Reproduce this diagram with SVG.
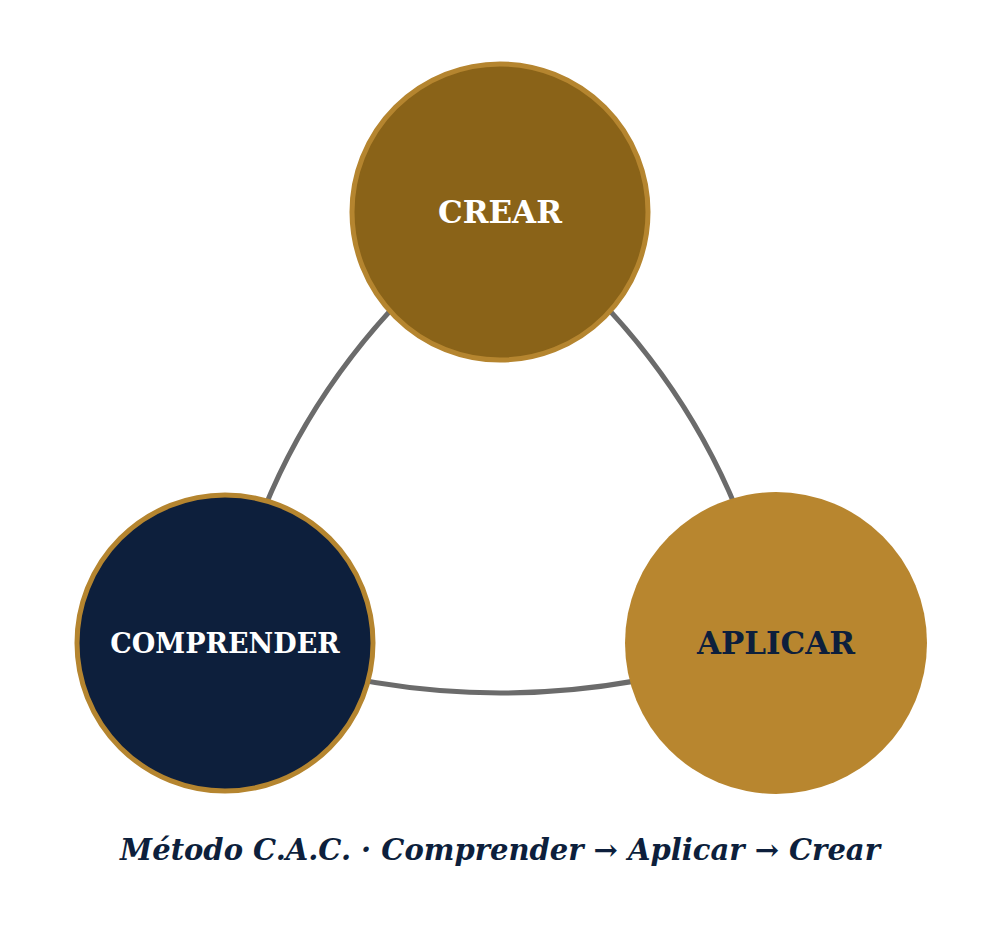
<svg xmlns="http://www.w3.org/2000/svg" width="1000" height="928" viewBox="0 0 1000 928">
<style>
.lbl{font-family:"DejaVu Serif",serif;font-weight:bold;text-anchor:middle;dominant-baseline:central}
.arc{fill:none;stroke:#6b6b6b;stroke-width:5}
</style>
<rect width="1000" height="928" fill="#fff"/>
<g id="connectors">
<path class="arc" d="M225,643 Q274,381 500,212"/>
<path class="arc" d="M500,212 Q726,381 776,643"/>
<path class="arc" d="M225,643 Q500,743 776,643"/>
</g>
<g id="crear">
<circle cx="500" cy="212" r="148" fill="#8a6318" stroke="#b5852f" stroke-width="5"/>
<text class="lbl" x="500" y="212" font-size="31" fill="#fff">CREAR</text>
</g>
<g id="comprender">
<circle cx="225" cy="643" r="148" fill="#0d1f3c" stroke="#b5852f" stroke-width="5"/>
<text class="lbl" x="225" y="643" font-size="27" fill="#fff">COMPRENDER</text>
</g>
<g id="aplicar">
<circle cx="776" cy="643" r="151" fill="#b8862f"/>
<text class="lbl" x="776" y="643" font-size="31" fill="#0d1f3c">APLICAR</text>
</g>
<text x="500" y="850" font-family="DejaVu Serif,serif" font-weight="bold" font-style="italic" font-size="29" fill="#0d1f3c" text-anchor="middle" dominant-baseline="central">Método C.A.C.  ·  Comprender → Aplicar → Crear</text>
</svg>
